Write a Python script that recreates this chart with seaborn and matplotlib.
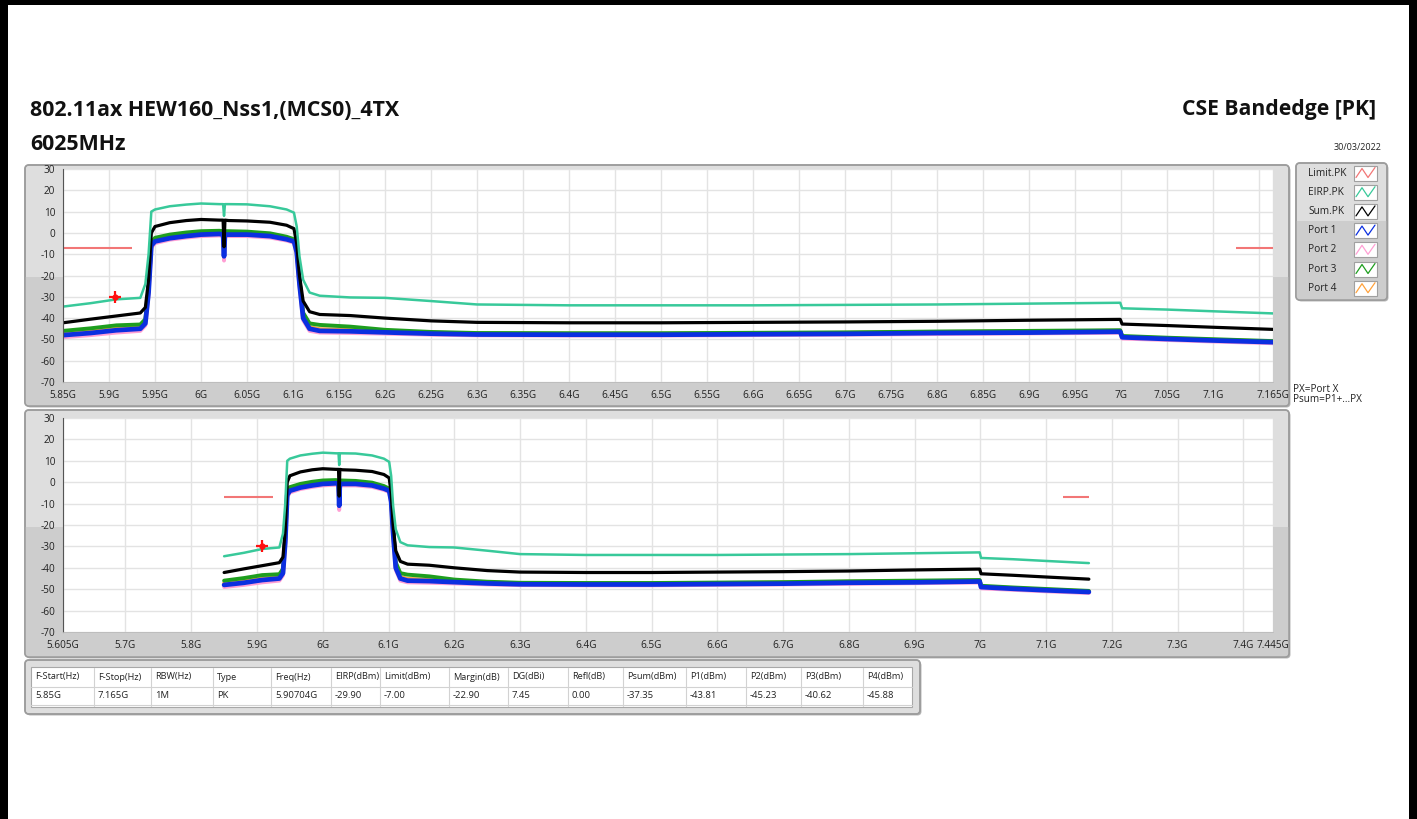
import numpy as np
import pandas as pd
import matplotlib
matplotlib.use("Agg")
import matplotlib.pyplot as plt
import seaborn as sns
from matplotlib.patches import FancyBboxPatch, Rectangle

# 데이터 (그림에서 읽은 값, 주파수 단위 GHz, 레벨 dBm)
freq_ghz = [5.850, 5.880, 5.908, 5.934, 5.9395, 5.943, 5.946, 5.950, 5.966, 5.984,
            6.000, 6.020, 6.024, 6.025, 6.026, 6.030, 6.050, 6.075, 6.093, 6.101,
            6.104, 6.107, 6.111, 6.118, 6.129, 6.162, 6.200, 6.250, 6.300, 6.400,
            6.500, 6.600, 6.700, 6.800, 6.900, 6.999, 7.001, 7.050, 7.100, 7.165]

eirp_pk = [-34.6, -33.0, -31.2, -30.5, -24.0, -10.0, 10.0, 11.0, 12.5, 13.3,
           13.8, 13.5, 13.5, 8.0, 13.5, 13.5, 13.4, 12.5, 11.0, 9.5,
           3.0, -11.0, -22.0, -28.0, -29.5, -30.3, -30.5, -32.0, -33.6, -34.0,
           -34.0, -34.0, -33.8, -33.6, -33.2, -32.8, -35.4, -36.0, -36.8, -37.8]

sum_pk = [-42.2, -40.5, -39.0, -37.6, -35.0, -22.0, 0.0, 3.0, 4.8, 5.8,
          6.3, 6.0, 6.0, -6.5, 6.0, 5.8, 5.6, 5.0, 3.6, 2.0,
          -5.0, -20.0, -32.0, -37.0, -38.3, -38.8, -40.0, -41.3, -42.0, -42.2,
          -42.2, -42.0, -41.8, -41.5, -41.0, -40.6, -42.8, -43.5, -44.3, -45.3]

port1 = [-48.0, -47.0, -45.7, -45.0, -42.5, -28.0, -6.0, -4.0, -2.5, -1.5,
         -0.8, -0.5, -0.8, -11.0, -0.8, -0.8, -0.8, -1.5, -3.0, -4.0,
         -9.0, -24.0, -40.0, -45.0, -46.0, -46.2, -46.7, -47.3, -47.7, -47.8,
         -47.8, -47.6, -47.4, -47.0, -46.8, -46.4, -49.0, -49.8, -50.5, -51.3]

port2 = [-49.0, -48.0, -46.8, -46.0, -43.5, -29.0, -7.0, -4.8, -3.2, -2.2,
         -1.5, -1.2, -1.5, -13.0, -1.5, -1.5, -1.5, -2.2, -3.6, -4.6,
         -10.0, -25.0, -41.0, -46.0, -46.8, -47.0, -47.3, -47.8, -48.1, -48.2,
         -48.2, -48.0, -47.8, -47.5, -47.2, -46.9, -49.6, -50.3, -51.0, -51.8]

port3 = [-46.0, -44.8, -43.4, -43.0, -40.5, -26.0, -4.5, -2.3, -0.8, 0.2,
         0.8, 1.0, 0.8, -9.5, 0.8, 0.8, 0.6, -0.2, -1.8, -3.0,
         -8.0, -22.0, -37.5, -42.5, -43.2, -44.0, -45.5, -46.5, -47.0, -47.1,
         -47.1, -46.9, -46.7, -46.3, -46.0, -45.7, -48.4, -49.2, -49.9, -50.8]

port4 = [-47.2, -46.2, -45.0, -44.3, -41.8, -27.0, -5.2, -3.2, -1.6, -0.6,
         0.2, 0.4, 0.2, -10.5, 0.2, 0.2, 0.0, -0.8, -2.3, -3.4,
         -8.5, -23.0, -39.0, -44.2, -45.2, -45.5, -46.1, -46.8, -47.2, -47.3,
         -47.3, -47.1, -46.9, -46.5, -46.3, -45.9, -48.7, -49.5, -50.2, -51.0]

limit_start = [5.850, 7.125]
limit_stop = [5.925, 7.165]
limit_level = -7.0

marker_freq = 5.90704
marker_level = -29.90

# 축 눈금
top_ticks = [5.85, 5.90, 5.95, 6.00, 6.05, 6.10, 6.15, 6.20, 6.25, 6.30, 6.35, 6.40,
             6.45, 6.50, 6.55, 6.60, 6.65, 6.70, 6.75, 6.80, 6.85, 6.90, 6.95, 7.00,
             7.05, 7.10, 7.15, 7.165]
top_labels = ["5.85G", "5.9G", "5.95G", "6G", "6.05G", "6.1G", "6.15G", "6.2G", "6.25G",
              "6.3G", "6.35G", "6.4G", "6.45G", "6.5G", "6.55G", "6.6G", "6.65G", "6.7G",
              "6.75G", "6.8G", "6.85G", "6.9G", "6.95G", "7G", "7.05G", "7.1G", "", "7.165G"]
bot_ticks = [5.605, 5.7, 5.8, 5.9, 6.0, 6.1, 6.2, 6.3, 6.4, 6.5, 6.6, 6.7, 6.8, 6.9,
             7.0, 7.1, 7.2, 7.3, 7.4, 7.445]
bot_labels = ["5.605G", "5.7G", "5.8G", "5.9G", "6G", "6.1G", "6.2G", "6.3G", "6.4G",
              "6.5G", "6.6G", "6.7G", "6.8G", "6.9G", "7G", "7.1G", "7.2G", "7.3G",
              "7.4G", "7.445G"]
y_ticks = [30, 20, 10, 0, -10, -20, -30, -40, -50, -60, -70]

legend_names = ["Limit.PK", "EIRP.PK", "Sum.PK", "Port 1", "Port 2", "Port 3", "Port 4"]

table_headers = ["F-Start(Hz)", "F-Stop(Hz)", "RBW(Hz)", "Type", "Freq(Hz)", "EIRP(dBm)",
                 "Limit(dBm)", "Margin(dB)", "DG(dBi)", "Refl(dB)", "Psum(dBm)",
                 "P1(dBm)", "P2(dBm)", "P3(dBm)", "P4(dBm)"]
table_values = ["5.85G", "7.165G", "1M", "PK", "5.90704G", "-29.90", "-7.00", "-22.90",
                "7.45", "0.00", "-37.35", "-43.81", "-45.23", "-40.62", "-45.88"]

colors = {
    "Limit.PK": "#f27676",
    "EIRP.PK": "#38c99a",
    "Sum.PK": "#000000",
    "Port 1": "#0b2fe0",
    "Port 2": "#ff9fd4",
    "Port 3": "#1e9e1e",
    "Port 4": "#ffa23c",
}

traces = pd.concat([
    pd.DataFrame({"freq": freq_ghz, "level": vals, "trace": name})
    for name, vals in [("EIRP.PK", eirp_pk), ("Sum.PK", sum_pk), ("Port 1", port1),
                       ("Port 2", port2), ("Port 3", port3), ("Port 4", port4)]
])

# 스타일
sns.set_style("white")
plt.rcParams['font.family'] = ['Open Sans', 'DejaVu Sans']
plt.rcParams['axes.unicode_minus'] = False

W, H = 1417, 819
fig = plt.figure(figsize=(W / 100, H / 100), dpi=100)
fig.patch.set_facecolor("white")

bg = fig.add_axes([0, 0, 1, 1], zorder=0)
bg.set_xlim(0, W)
bg.set_ylim(H, 0)
bg.axis("off")


def panel(x0, y0, x1, y1, split=None, light="#dedede", dark="#cdcdcd"):
    shadow = FancyBboxPatch((x0 + 1.5, y0 + 1.5), x1 - x0, y1 - y0,
                            boxstyle="round,pad=0,rounding_size=4",
                            fc="#b8b8b8", ec="none", zorder=1)
    bg.add_patch(shadow)
    box = FancyBboxPatch((x0, y0), x1 - x0, y1 - y0,
                         boxstyle="round,pad=0,rounding_size=4",
                         fc=light, ec="#9c9c9c", lw=1.1, zorder=2)
    bg.add_patch(box)
    if split is not None:
        low = Rectangle((x0, split), x1 - x0, y1 - split, fc=dark, ec="none", zorder=2.1)
        bg.add_patch(low)
        low.set_clip_path(box)
    edge = FancyBboxPatch((x0, y0), x1 - x0, y1 - y0,
                          boxstyle="round,pad=0,rounding_size=4",
                          fc="none", ec="#9c9c9c", lw=1.1, zorder=2.2)
    bg.add_patch(edge)


def px_axes(x0, y0, x1, y1):
    return fig.add_axes([x0 / W, 1 - y1 / H, (x1 - x0) / W, (y1 - y0) / H], zorder=3)


# 외곽 검은 테두리
bg.add_patch(Rectangle((0, 0), 8, H, fc="black", ec="none", zorder=5))
bg.add_patch(Rectangle((W - 8, 0), 8, H, fc="black", ec="none", zorder=5))
bg.add_patch(Rectangle((0, 0), W, 5, fc="black", ec="none", zorder=5))

# 제목
bg.text(30, 110, "802.11ax HEW160_Nss1,(MCS0)_4TX", fontsize=15.4, fontweight="bold",
        va="center", ha="left", color="#111111")
bg.text(30, 145, "6025MHz", fontsize=15.4, fontweight="bold", va="center", ha="left",
        color="#111111")
bg.text(1376, 110, "CSE Bandedge [PK]", fontsize=15.2, fontweight="bold", va="center",
        ha="right", color="#111111")
bg.text(1382, 148, "30/03/2022", fontsize=6.5, va="center", ha="right", color="#222222")

# 패널
panel(25, 165, 1289, 406, split=277)
panel(25, 410, 1289, 657, split=527)
panel(1296, 163, 1387, 300, split=221)

draw_order = ["Port 2", "Port 4", "Port 3", "Port 1", "Sum.PK", "EIRP.PK"]
widths = {"Port 2": 2.8, "Port 4": 2.8, "Port 3": 2.8, "Port 1": 3.4,
          "Sum.PK": 2.3, "EIRP.PK": 1.8}


def draw_spectrum(ax, xlim, ticks, labels):
    ax.set_facecolor("white")
    for name in draw_order:
        sns.lineplot(data=traces[traces["trace"] == name], x="freq", y="level",
                     color=colors[name], lw=widths[name], sort=False, estimator=None,
                     ax=ax, legend=False)
    for a, b in zip(limit_start, limit_stop):
        ax.plot([a, b], [limit_level, limit_level], color=colors["Limit.PK"], lw=1.5,
                solid_capstyle="butt")
    ax.plot(marker_freq, marker_level, marker="+", ms=9, mew=1.6, color="#ff1010", zorder=6)
    ax.plot(marker_freq, marker_level, marker="o", ms=3.5, color="#ff1010", zorder=6)
    ax.set_xlim(*xlim)
    ax.set_ylim(-70, 30)
    ax.set_xticks(ticks)
    ax.set_xticklabels(labels)
    ax.set_yticks(y_ticks)
    ax.set_yticklabels([str(v) for v in y_ticks])
    ax.set_xlabel("")
    ax.set_ylabel("")
    ax.grid(True, color="#e3e3e3", lw=1.0)
    ax.set_axisbelow(True)
    ax.tick_params(axis="both", direction="out", length=4, width=0.8, color="#555555",
                   labelsize=7.2, labelcolor="#222222", pad=1.5)
    for side in ["top", "right"]:
        ax.spines[side].set_visible(False)
    ax.spines["left"].set_color("#555555")
    ax.spines["left"].set_linewidth(0.8)
    ax.spines["bottom"].set_color("#bbbbbb")
    ax.spines["bottom"].set_linewidth(0.6)


ax_top = px_axes(63, 169, 1273, 382)
draw_spectrum(ax_top, (5.85, 7.165), top_ticks, top_labels)

ax_bot = px_axes(63, 418, 1273, 632)
draw_spectrum(ax_bot, (5.605, 7.445), bot_ticks, bot_labels)

# 범례
for i, name in enumerate(legend_names):
    y = 173 + i * 19.2
    bg.text(1308, y, name, fontsize=7.3, va="center", ha="left", color="#222222", zorder=4)
    bx = 1354
    bg.add_patch(Rectangle((bx, y - 7.5), 23, 15, fc="white", ec="#a0a0a0", lw=0.8, zorder=4))
    bg.plot([bx + 2, bx + 8, bx + 14, bx + 21], [y + 4.5, y - 4.5, y + 4.5, y - 5.5],
            color=colors[name], lw=0.9, zorder=5)

bg.text(1293, 389, "PX=Port X", fontsize=7.2, va="center", ha="left", color="#222222")
bg.text(1293, 400, "Psum=P1+...PX", fontsize=7.2, va="center", ha="left", color="#222222")

# 결과 표
panel(25, 660, 920, 714)
bg.add_patch(Rectangle((31, 667), 881, 40, fc="white", ec="#a8a8a8", lw=0.8, zorder=3))
col_x = [35, 98, 155, 217, 275, 335, 384, 453, 512, 572, 627, 690, 750, 805, 867]
for cx in col_x[1:]:
    bg.plot([cx - 4, cx - 4], [668, 706], color="#d2d2d2", lw=0.8, zorder=4)
bg.plot([31, 912], [686.5, 686.5], color="#d2d2d2", lw=0.8, zorder=4)
bg.plot([31, 912], [704.5, 704.5], color="#d2d2d2", lw=0.8, zorder=4)
for cx, h, v in zip(col_x, table_headers, table_values):
    bg.text(cx, 677, h, fontsize=6.6, va="center", ha="left", color="#222222", zorder=5)
    bg.text(cx, 696, v, fontsize=6.8, va="center", ha="left", color="#222222", zorder=5)

fig.savefig("out.png", dpi=100)
